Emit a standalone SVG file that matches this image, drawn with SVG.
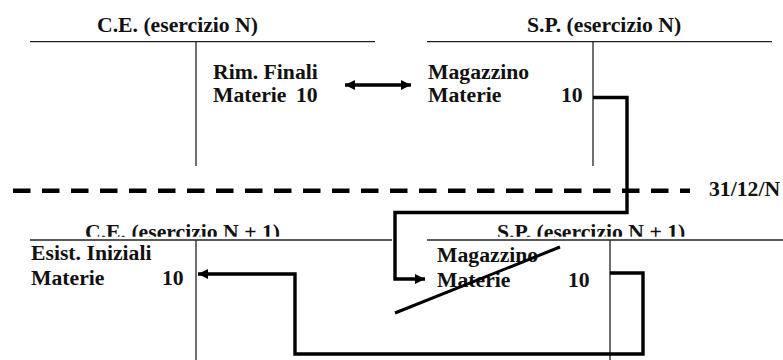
<svg xmlns="http://www.w3.org/2000/svg" width="783" height="360" viewBox="0 0 783 360">
  <style>
    .x { font-family: 'Liberation Serif', 'Times New Roman', Times, serif; font-weight: 700; font-size: 21.7px; fill: #111; }
    .t { stroke: #222; stroke-width: 1.3; fill: none; }
    .c { stroke: #000; stroke-width: 3.4; fill: none; stroke-linejoin: miter; }
    .d { stroke: #000; stroke-width: 4.5; fill: none; stroke-dasharray: 17.5 11.5; }
  </style>
  <defs>
    <marker id="ah" viewBox="0 0 10 10" refX="10" refY="5" markerWidth="10" markerHeight="10" markerUnits="userSpaceOnUse" orient="auto-start-reverse">
      <path d="M0,0 L10,5 L0,10 z" fill="#000"/>
    </marker>
    <clipPath id="clipTop">
      <rect x="0" y="200" width="783" height="36.8"/>
    </clipPath>
  </defs>
  <rect width="783" height="360" fill="#fff"/>

  <g class="x" font-family="Liberation Serif, serif">
  <g id="ce-n">
    <text x="97" y="31.5">C.E. (esercizio N)</text>
    <line class="t" x1="30" y1="41.7" x2="375" y2="41.7"/>
    <line class="t" x1="196" y1="41.7" x2="196" y2="166"/>
    <text x="213" y="79">Rim. Finali</text>
    <text x="213" y="101.7">Materie <tspan x="296">10</tspan></text>
  </g>

  <g id="sp-n">
    <text x="527" y="31.5">S.P. (esercizio N)</text>
    <line class="t" x1="427" y1="41.7" x2="772" y2="41.7"/>
    <line class="t" x1="593" y1="41.7" x2="593" y2="166"/>
    <text x="428" y="79">Magazzino</text>
    <text x="428" y="101.7">Materie <tspan x="561">10</tspan></text>
  </g>

  <g id="divider">
    <line class="d" x1="13" y1="190.7" x2="690" y2="190.7"/>
    <text x="709" y="195.5">31/12/N</text>
  </g>

  <g id="ce-n1">
    <text x="85" y="238.5" clip-path="url(#clipTop)">C.E. (esercizio N + 1)</text>
    <line class="t" x1="30" y1="240" x2="392" y2="240"/>
    <line class="t" x1="196" y1="240" x2="196" y2="360"/>
    <text x="31" y="260">Esist. Iniziali</text>
    <text x="31" y="285">Materie <tspan x="162">10</tspan></text>
  </g>

  <g id="sp-n1">
    <text x="497" y="238.5" clip-path="url(#clipTop)">S.P. (esercizio N + 1)</text>
    <line class="t" x1="427" y1="240" x2="783" y2="240"/>
    <line class="t" x1="610" y1="240" x2="610" y2="360"/>
    <text x="437" y="261.7">Magazzino</text>
    <text x="437" y="286.7">Materie <tspan x="568">10</tspan></text>
    <line x1="395" y1="313" x2="560" y2="247" stroke="#000" stroke-width="3"/>
  </g>
  </g>

  <g id="connectors">
    <line class="c" x1="345" y1="85" x2="411" y2="85" stroke-width="3" marker-start="url(#ah)" marker-end="url(#ah)"/>
    <path class="c" d="M593,97.5 H627 V212.5 H395 V279 H425" marker-end="url(#ah)"/>
    <path class="c" d="M610,273 H643 V354 H295 V274 H198" marker-end="url(#ah)"/>
  </g>
</svg>
